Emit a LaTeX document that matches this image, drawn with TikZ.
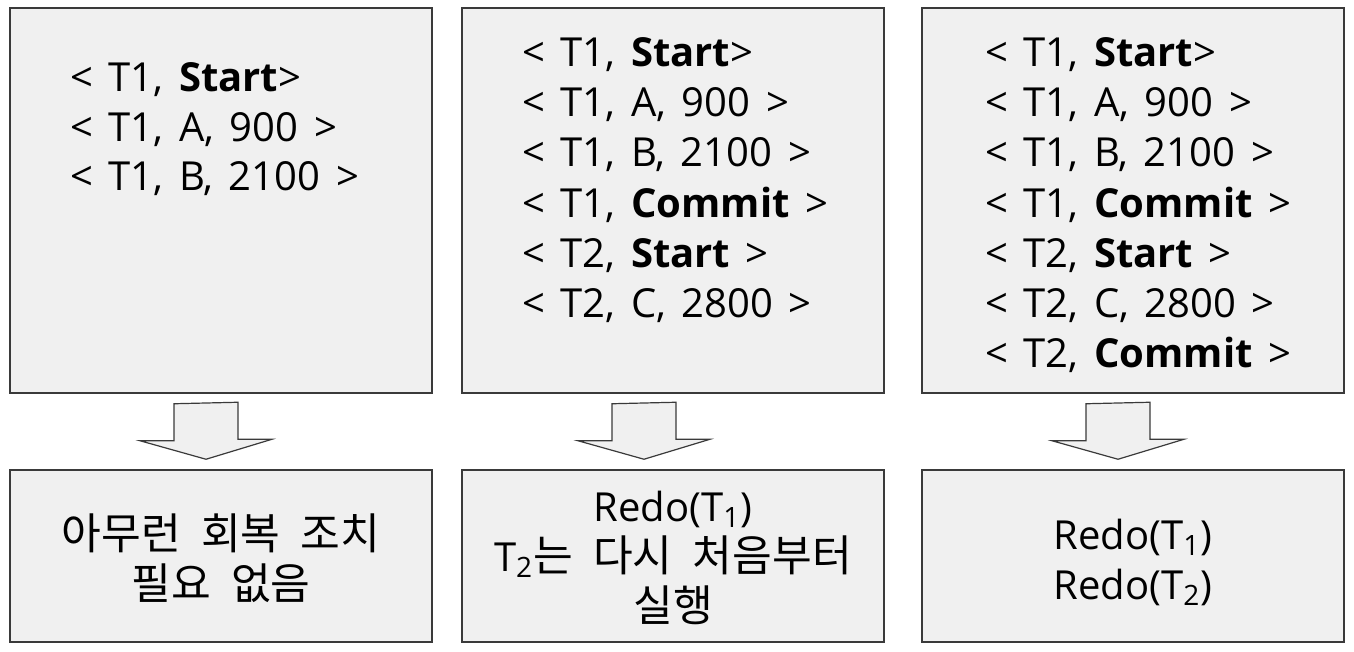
\documentclass[tikz,border=0pt]{standalone}
\usepackage{fontspec}
\setmainfont{Open Sans}[WordSpace=1.5]
\newfontfamily\krfont{Noto Sans CJK KR}[WordSpace=2.1, Scale=1.08]
\usetikzlibrary{calc}

\definecolor{boxfill}{HTML}{F0F0F0}
\definecolor{boxline}{HTML}{3A3A3A}

\tikzset{
  every log/.style={draw=boxline, fill=boxfill, line width=0.75pt,
    minimum width=211pt, minimum height=192.5pt, inner sep=0pt},
  every result/.style={draw=boxline, fill=boxfill, line width=0.75pt,
    minimum width=211pt, minimum height=86pt, inner sep=0pt},
  result text/.style={inner sep=0pt, align=center,
    font=\fontsize{20}{25}\selectfont},
  log line/.style={anchor=base west, inner sep=0pt,
    font=\fontsize{20}{25}\selectfont},
  block arrow/.style={draw=boxline, fill=boxfill, line width=0.6pt},
}

\begin{document}
\begin{tikzpicture}[x=0.5pt, y=-0.5pt]
\useasboundingbox (0,0) rectangle (1354,652);

\foreach \x [count=\i] in {221,673,1133}
  \node [every log] (log-\i) at (\x,200.5) {};
\foreach \x [count=\i] in {221,673,1133}
  \node [every result] (res-\i) at (\x,556) {};

\foreach \l [count=\y] in {{< T1, \textbf{Start}>}, {< T1, A, 900 >},
    {< T1, B, 2100 >}}
  \node [log line] (line1-\y) at (70,{92+(\y-1)*49.5}) {\l};

\foreach \l [count=\y] in {{< T1, \textbf{Start}>}, {< T1, A, 900 >},
    {< T1, B, 2100 >}, {< T1, \textbf{Commit} >}, {< T2, \textbf{Start} >},
    {< T2, C, 2800 >}}
  \node [log line] (line2-\y) at (522,{66.5+(\y-1)*50.2}) {\l};

\foreach \l [count=\y] in {{< T1, \textbf{Start}>}, {< T1, A, 900 >},
    {< T1, B, 2100 >}, {< T1, \textbf{Commit} >}, {< T2, \textbf{Start} >},
    {< T2, C, 2800 >}, {< T2, \textbf{Commit} >}}
  \node [log line] (line3-\y) at (985,{66.5+(\y-1)*50.2}) {\l};

\node [result text] (res1-text) at ($(res-1)+(0,2)$)
  {{\krfont 아무런 회복 조치}\\{\krfont 필요 없음}};
\node [result text] (res2-text) at ($(res-2)+(0,2)$)
  {Redo(T\textsubscript{1})\\T\textsubscript{2}{\krfont 는 다시 처음부터}\\{\krfont 실행}};
\node [result text] (res3-text) at ($(res-3)+(0,6)$)
  {Redo(T\textsubscript{1})\\Redo(T\textsubscript{2})};

\foreach \i/\dx in {1/-15, 2/-29, 3/-15}
  \draw [block arrow] ($(log-\i.south)+(\dx-32,10)$) -- ++(0,37) -- ++(-34,0)
    -- ($(res-\i.north)+(\dx,-10)$) -- ++(66,-20) -- ++(-34,0) -- ++(0,-37) -- cycle;

\end{tikzpicture}
\end{document}
